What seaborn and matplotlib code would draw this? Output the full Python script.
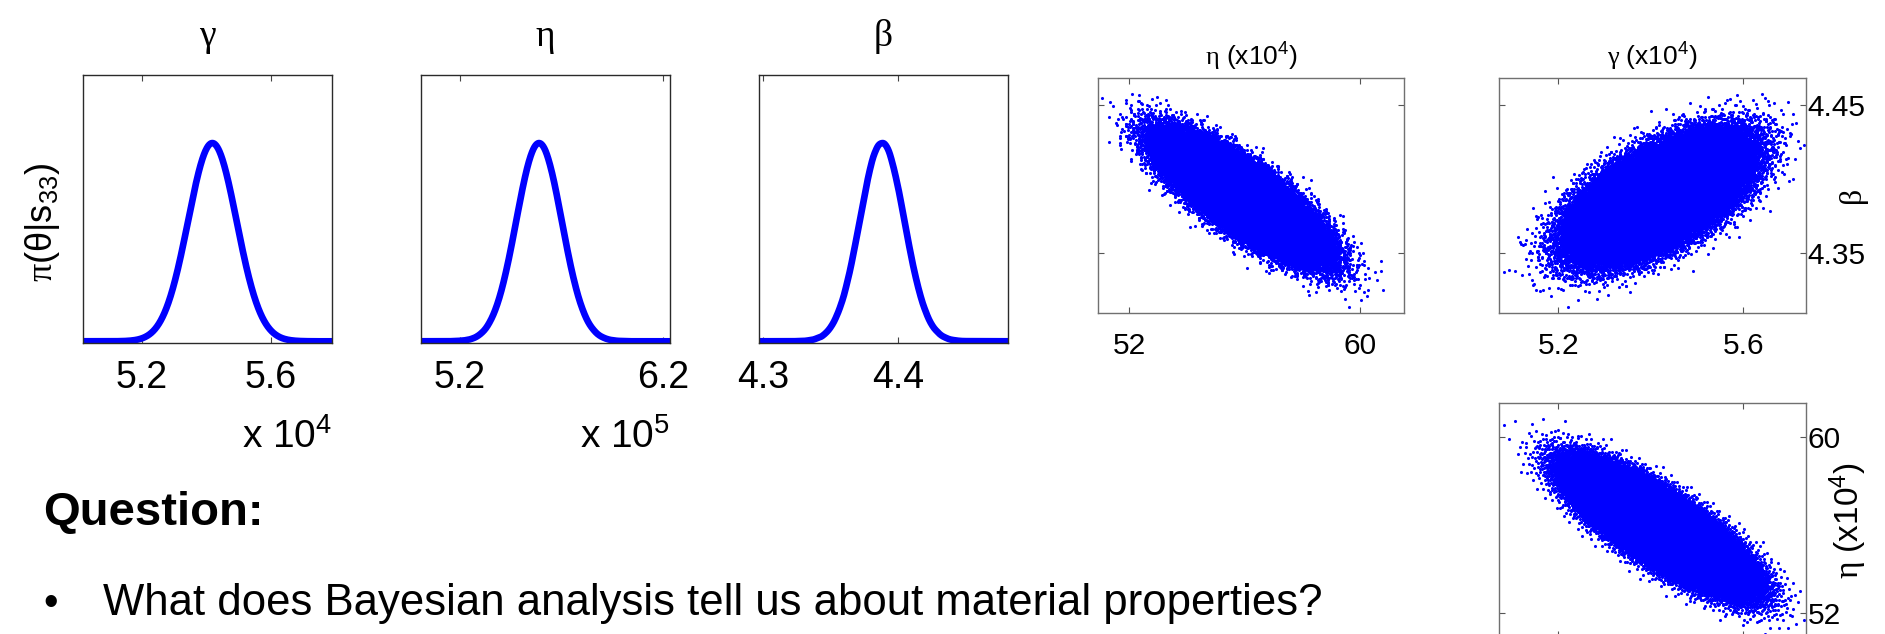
import numpy as np
import pandas as pd
import matplotlib
matplotlib.use("Agg")
import matplotlib.pyplot as plt
import seaborn as sns
from statistics import NormalDist

# Posterior summary of the three constitutive parameters
param_names = ["gamma", "eta", "beta"]
post_mean = [5.418e4, 5.59e5, 4.388]
post_sd = [0.075e4, 0.112e5, 0.0165]
# Pairwise posterior correlations: gamma-eta, gamma-beta, eta-beta
post_corr = [-0.80, 0.60, -0.80]
n_draws = 150000

# Tick values on each axis
gamma_ticks = [5.2, 5.6]        # x 10^4
eta_ticks_e5 = [5.2, 6.2]       # x 10^5
beta_ticks = [4.3, 4.4]
eta_ticks_e4 = [52, 60]         # x 10^4
beta_ticks_pair = [4.35, 4.45]

# Panel text
density_titles = ["γ", "η", "β"]
density_ylabel = r"$\mathsf{\pi}(\mathrm{\theta}|\mathrm{s}_{33})$"
offset_labels = [r"x 10$^{4}$", r"x 10$^{5}$", None]
eta_pair_label = r"$\mathsf{\eta}$ (x10$^{4}$)"
gamma_pair_label = r"$\mathsf{\gamma}$ (x10$^{4}$)"
beta_pair_label = "β"
question_text = "Question:"
bullet_text = "What does Bayesian analysis tell us about material properties?"

sns.set_theme(style="white")
plt.rcParams["font.family"] = ["Liberation Sans", "DejaVu Sans"]
plt.rcParams["mathtext.fontset"] = "custom"
plt.rcParams["mathtext.rm"] = "Liberation Sans"
plt.rcParams["mathtext.it"] = "Liberation Sans:italic"
plt.rcParams["mathtext.bf"] = "Liberation Sans:bold"
plt.rcParams["mathtext.sf"] = "Liberation Serif"
plt.rcParams["axes.grid"] = False
for key in ("text.color", "axes.labelcolor", "xtick.color", "ytick.color"):
    plt.rcParams[key] = "black"

BLUE = "#0000ff"


# Posterior draws: deterministic Halton points mapped through the normal
# quantile function, then correlated with a Cholesky factor.
def radical_inverse(idx, base):
    out = np.zeros(idx.shape, dtype=float)
    n = idx.copy()
    f = 1.0
    while n.any():
        f /= base
        out += f * (n % base)
        n //= base
    return out


idx = np.arange(1, n_draws + 1)
u = np.column_stack([radical_inverse(idx, b) for b in (2, 3, 5)])
z = np.vectorize(NormalDist().inv_cdf)(u)
c_ge, c_gb, c_eb = post_corr
corr = np.array([[1.0, c_ge, c_gb], [c_ge, 1.0, c_eb], [c_gb, c_eb, 1.0]])
chol = np.linalg.cholesky(corr)
draws = (z @ chol.T) * np.array(post_sd) + np.array(post_mean)
post = pd.DataFrame(draws, columns=param_names)
post["gamma_e4"] = post["gamma"] / 1e4
post["eta_e5"] = post["eta"] / 1e5
post["eta_e4"] = post["eta"] / 1e4

W, H = 1885, 634
fig = plt.figure(figsize=(W / 100, H / 100), dpi=100)
fig.patch.set_facecolor("white")


def box(x0, y0, x1, y1):
    return fig.add_axes([x0 / W, 1 - y1 / H, (x1 - x0) / W, (y1 - y0) / H])


def style_frame(ax, color, lw):
    for sp in ax.spines.values():
        sp.set_visible(True)
        sp.set_color(color)
        sp.set_linewidth(lw)


# ---- marginal posterior densities ----
density_specs = [
    ("gamma_e4", (83, 75, 332, 343), (5.017, 5.789), gamma_ticks),
    ("eta_e5", (421, 75, 670, 343), (5.008, 6.236), eta_ticks_e5),
    ("beta", (759, 75, 1008, 343), (4.2968, 4.4813), beta_ticks),
]

for k, (col, rect, xlim, ticks) in enumerate(density_specs):
    ax = box(*rect)
    sns.kdeplot(x=post[col], ax=ax, color=BLUE, lw=4.8, cut=20,
                gridsize=800)
    peak = ax.lines[-1].get_ydata().max()
    span = peak / 0.7397
    lo = -0.0063 * span
    ax.set_ylim(lo, lo + span)
    ax.set_xlim(*xlim)
    ax.set_xticks(ticks)
    ax.set_xticklabels([f"{t:g}" for t in ticks])
    ax.set_yticks([])
    ax.set_xlabel("")
    ax.set_ylabel("")
    style_frame(ax, "#2a2a2a", 1.0)
    ax.tick_params(axis="x", direction="in", length=4, width=0.8,
                   color="#444444", top=True, bottom=True,
                   labelsize=27, pad=12)
    ax.set_title(density_titles[k], family="Liberation Serif",
                 fontsize=27, pad=21)
    if offset_labels[k]:
        ax.text(1.0, (343 - 448) / 268, offset_labels[k],
                transform=ax.transAxes, ha="right", va="baseline",
                fontsize=28)
    if k == 0:
        ax.set_ylabel(density_ylabel, fontsize=26)
        ax.yaxis.set_label_coords((42 - 83) / 249, 0.45)
        ax.yaxis.label.set_rotation_mode("default")
        ax.yaxis.label.set_va("center")
        ax.yaxis.label.set_ha("center")

# ---- pairwise posterior scatter ----
gamma_lim = (5.0724, 5.735)
eta_lim = (50.91, 61.53)
beta_lim = (4.310, 4.4683)

pair_specs = [
    ("eta_e4", "beta", (1098, 78, 1404, 312.5), eta_lim, beta_lim,
     eta_ticks_e4, beta_ticks_pair, True, False),
    ("gamma_e4", "beta", (1499.3, 78, 1805.7, 312.5), gamma_lim, beta_lim,
     gamma_ticks, beta_ticks_pair, True, True),
    ("gamma_e4", "eta_e4", (1499.3, 403.3, 1805.7, 637), gamma_lim, eta_lim,
     gamma_ticks, eta_ticks_e4, False, True),
]

pair_axes = []
for xcol, ycol, rect, xl, yl, xt, yt, xlabels, ylabels in pair_specs:
    ax = box(*rect)
    sns.scatterplot(data=post, x=xcol, y=ycol, ax=ax, s=5, color=BLUE,
                    linewidth=0, marker="o", legend=False, rasterized=True)
    ax.set_xlim(*xl)
    ax.set_ylim(*yl)
    ax.set_xticks(xt)
    ax.set_xticklabels([f"{t:g}" for t in xt])
    ax.set_yticks(yt)
    ax.set_yticklabels([f"{t:g}" for t in yt])
    ax.set_xlabel("")
    ax.set_ylabel("")
    style_frame(ax, "#707070", 1.0)
    ax.tick_params(axis="x", direction="in", length=4, width=0.8,
                   color="#555555", top=True, bottom=True,
                   labelbottom=xlabels, labelsize=21.5, pad=14)
    ax.tick_params(axis="y", direction="in", length=4, width=0.8,
                   color="#555555", left=True, right=True,
                   labelleft=False, labelright=ylabels,
                   labelsize=21.5, pad=1.5)
    pair_axes.append(ax)

ax1, ax2, ax3 = pair_axes
ax1.set_title(eta_pair_label, fontsize=19, pad=9)
ax2.set_title(gamma_pair_label, fontsize=19, pad=9)

ax2.yaxis.set_label_position("right")
ax2.set_ylabel(beta_pair_label, family="Liberation Serif", fontsize=23)
ax2.yaxis.set_label_coords((1852 - 1499.3) / 306.4, 0.5)
ax2.yaxis.label.set_rotation(90)
ax2.yaxis.label.set_rotation_mode("default")
ax2.yaxis.label.set_va("center")
ax2.yaxis.label.set_ha("center")

ax3.yaxis.set_label_position("right")
ax3.set_ylabel(eta_pair_label, fontsize=24)
ax3.yaxis.set_label_coords((1848 - 1499.3) / 306.4, 0.5)
ax3.yaxis.label.set_rotation(90)
ax3.yaxis.label.set_rotation_mode("default")
ax3.yaxis.label.set_va("center")
ax3.yaxis.label.set_ha("center")

# ---- question text ----
fig.text(43 / W, 1 - 525 / H, question_text, fontsize=34,
         fontweight="bold", ha="left", va="baseline")
fig.text(43 / W, 1 - 615 / H, "•", fontsize=30, ha="left", va="baseline")
fig.text(103 / W, 1 - 615 / H, bullet_text, fontsize=31.5,
         ha="left", va="baseline")

fig.savefig("out.png", dpi=100, facecolor="white")
